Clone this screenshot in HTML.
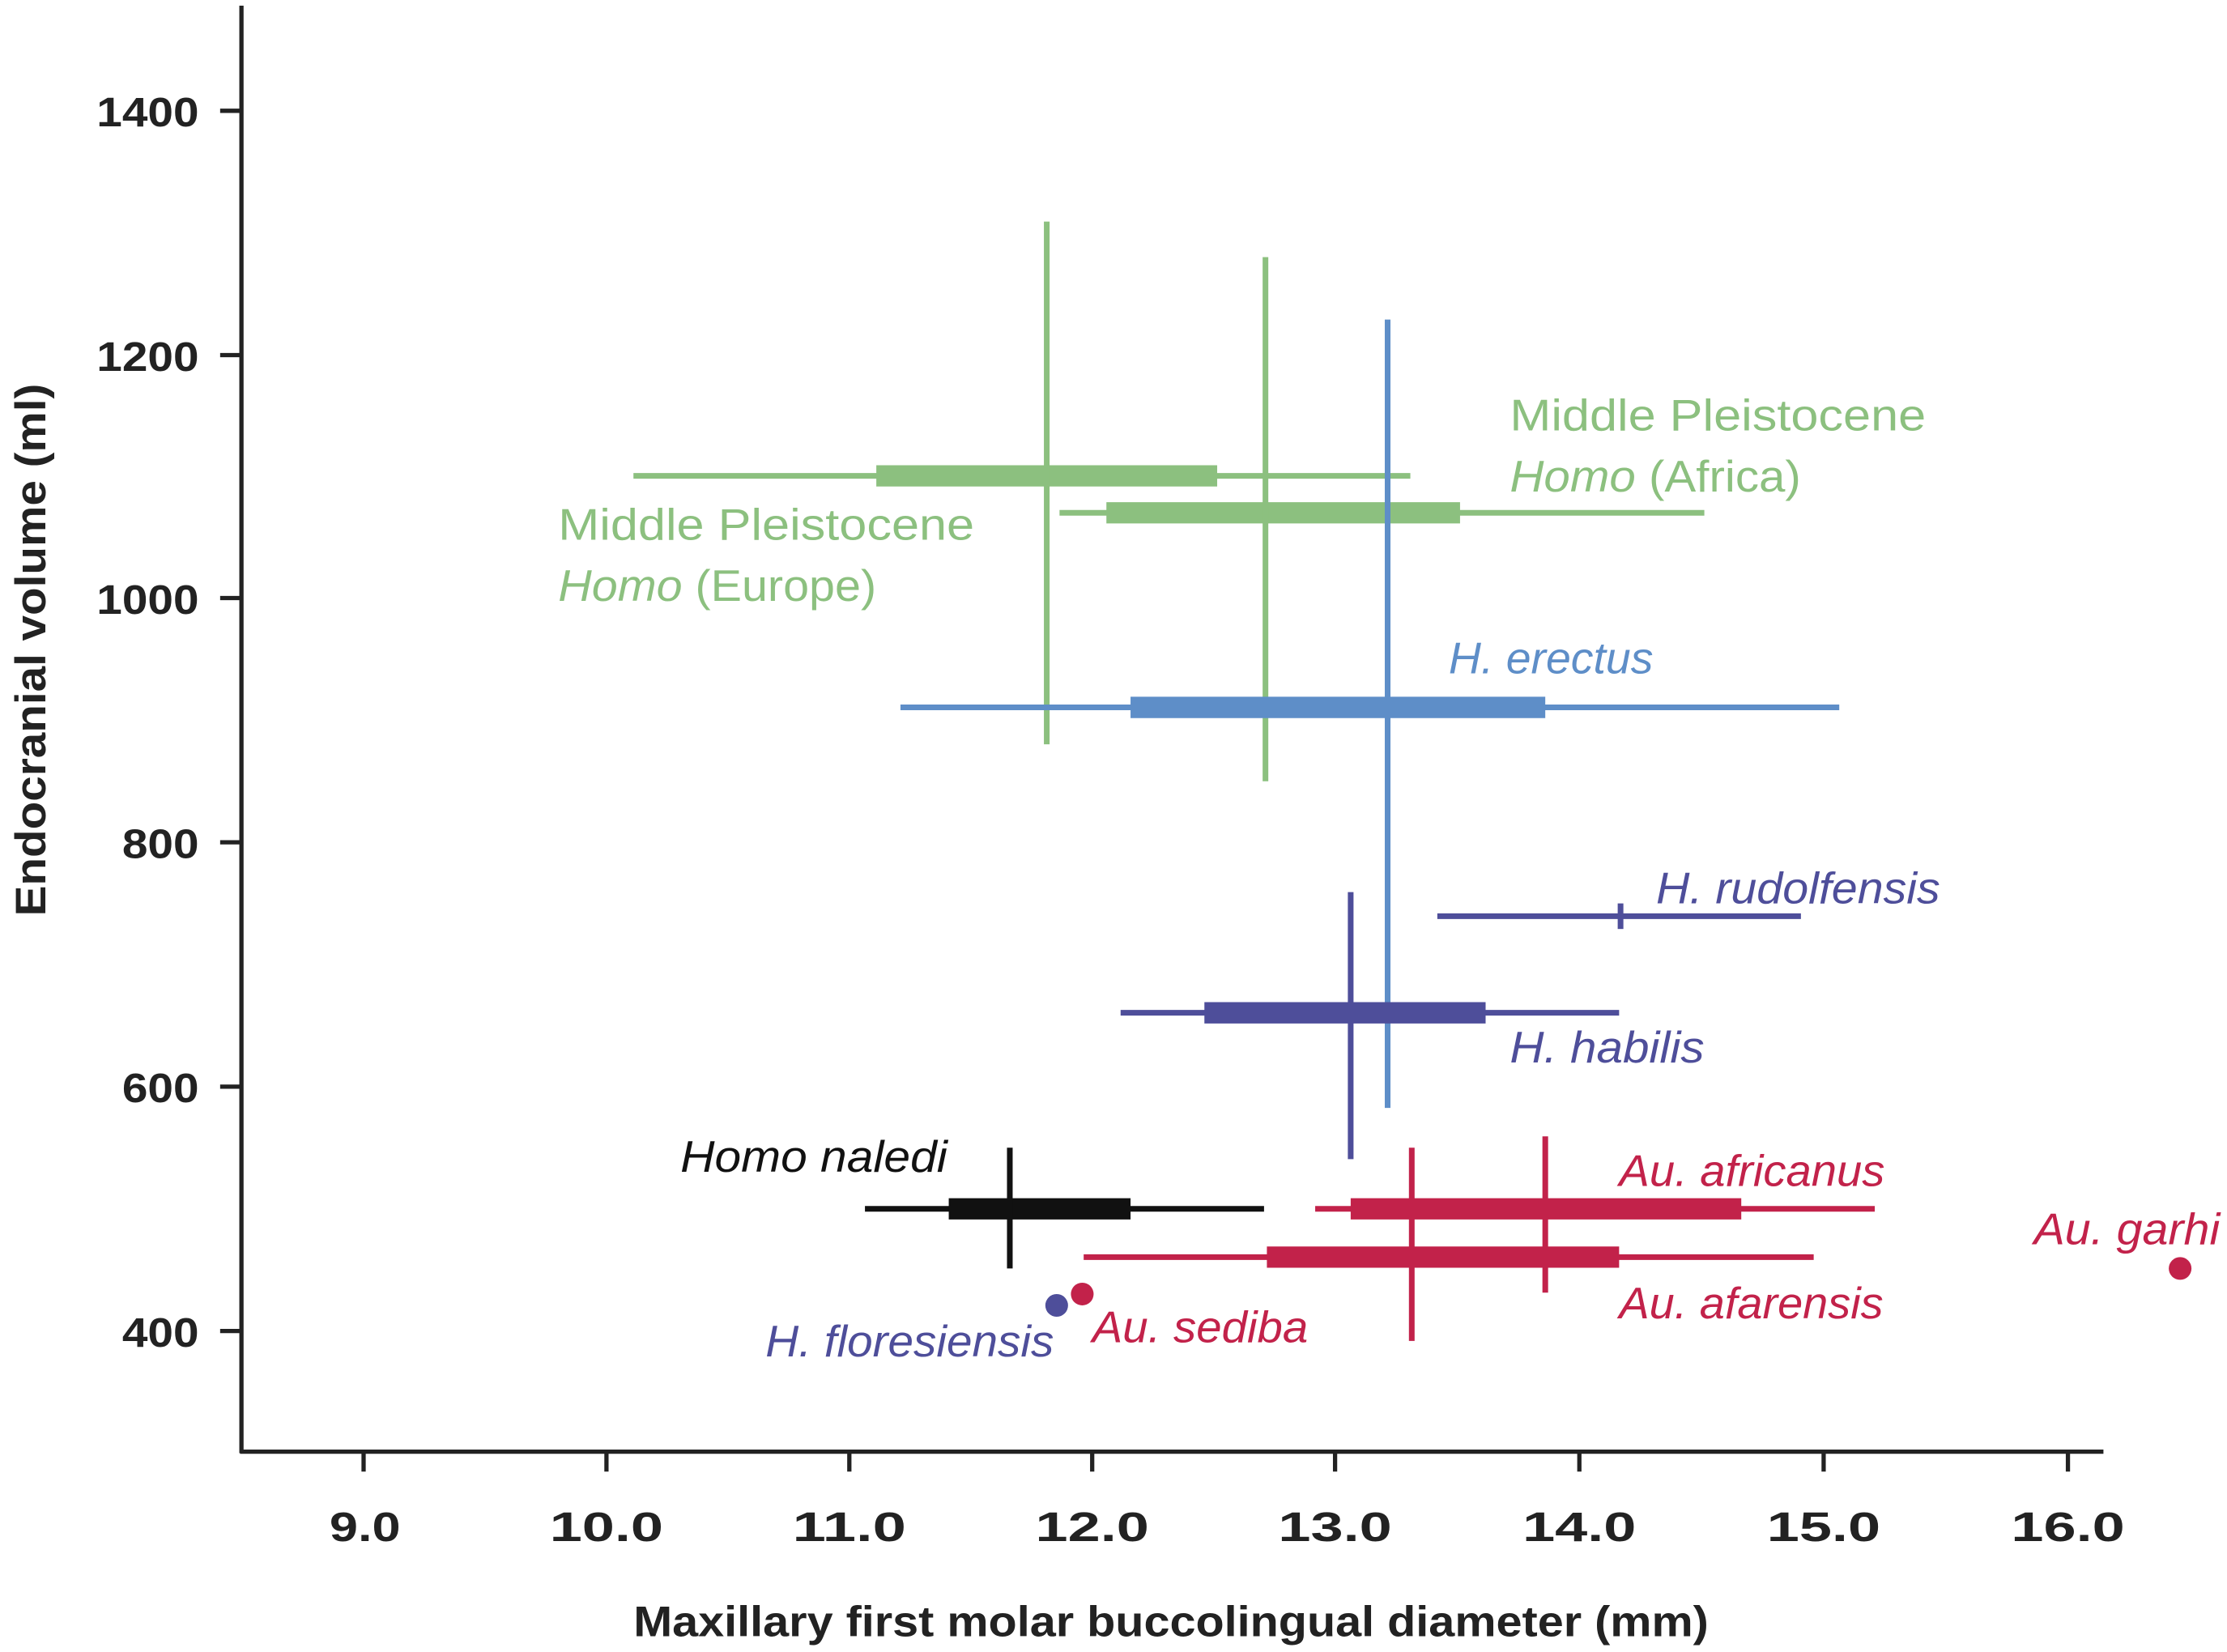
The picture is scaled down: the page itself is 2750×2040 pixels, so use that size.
<!DOCTYPE html>
<html><head><meta charset="utf-8"><style>html,body{margin:0;padding:0;background:#fff}svg{display:block}</style></head>
<body>
<svg width="2750" height="2040" viewBox="0 0 1568 1163" preserveAspectRatio="none" xmlns="http://www.w3.org/2000/svg" font-family="Liberation Sans, sans-serif">
<rect width="1568" height="1163" fill="#fff"/>
<g stroke="#222" stroke-width="3" fill="none">
<line x1="170" y1="4" x2="170" y2="1023"/>
<line x1="169" y1="1022" x2="1481" y2="1022"/>
<line x1="155" y1="78" x2="170" y2="78"/><line x1="155" y1="250" x2="170" y2="250"/><line x1="155" y1="421" x2="170" y2="421"/><line x1="155" y1="593" x2="170" y2="593"/><line x1="155" y1="765" x2="170" y2="765"/><line x1="155" y1="937" x2="170" y2="937"/>
<line x1="256" y1="1022" x2="256" y2="1036"/><line x1="427" y1="1022" x2="427" y2="1036"/><line x1="598" y1="1022" x2="598" y2="1036"/><line x1="769" y1="1022" x2="769" y2="1036"/><line x1="940" y1="1022" x2="940" y2="1036"/><line x1="1112" y1="1022" x2="1112" y2="1036"/><line x1="1284" y1="1022" x2="1284" y2="1036"/><line x1="1456" y1="1022" x2="1456" y2="1036"/>
</g>
<g font-size="29" font-weight="bold" fill="#222">
<text lengthAdjust="spacingAndGlyphs" x="68" y="89" textLength="72">1400</text><text lengthAdjust="spacingAndGlyphs" x="68" y="261" textLength="72">1200</text><text lengthAdjust="spacingAndGlyphs" x="68" y="432" textLength="72">1000</text><text lengthAdjust="spacingAndGlyphs" x="86" y="604" textLength="54">800</text><text lengthAdjust="spacingAndGlyphs" x="86" y="776" textLength="54">600</text><text lengthAdjust="spacingAndGlyphs" x="86" y="948" textLength="54">400</text>
<text lengthAdjust="spacingAndGlyphs" x="232" y="1085" textLength="50">9.0</text><text lengthAdjust="spacingAndGlyphs" x="387" y="1085" textLength="80">10.0</text><text lengthAdjust="spacingAndGlyphs" x="558" y="1085" textLength="80">11.0</text><text lengthAdjust="spacingAndGlyphs" x="729" y="1085" textLength="80">12.0</text><text lengthAdjust="spacingAndGlyphs" x="900" y="1085" textLength="80">13.0</text><text lengthAdjust="spacingAndGlyphs" x="1072" y="1085" textLength="80">14.0</text><text lengthAdjust="spacingAndGlyphs" x="1244" y="1085" textLength="80">15.0</text><text lengthAdjust="spacingAndGlyphs" x="1416" y="1085" textLength="80">16.0</text>
<text lengthAdjust="spacingAndGlyphs" x="446" y="1152" textLength="757" font-size="30">Maxillary first molar buccolingual diameter (mm)</text>
<text lengthAdjust="spacingAndGlyphs" transform="translate(32,645) rotate(-90)" textLength="375" font-size="30">Endocranial volume (ml)</text>
</g>
<g stroke="#8cc07f" fill="none">
<line x1="446" y1="335" x2="993" y2="335" stroke-width="4"/><line x1="617" y1="335" x2="857" y2="335" stroke-width="15"/><line x1="737" y1="156" x2="737" y2="524" stroke-width="4"/>
<line x1="746" y1="361" x2="1200" y2="361" stroke-width="4"/><line x1="779" y1="361" x2="1028" y2="361" stroke-width="15"/><line x1="891" y1="181" x2="891" y2="550" stroke-width="4"/>
</g>
<g stroke="#5e8ec8" fill="none">
<line x1="634" y1="498" x2="1295" y2="498" stroke-width="4"/><line x1="796" y1="498" x2="1088" y2="498" stroke-width="15"/><line x1="977" y1="225" x2="977" y2="780" stroke-width="4"/>
</g>
<g stroke="#4e4e9a" fill="none">
<line x1="1012" y1="645" x2="1268" y2="645" stroke-width="4"/><line x1="1141" y1="636" x2="1141" y2="654" stroke-width="4"/>
<line x1="789" y1="713" x2="1140" y2="713" stroke-width="4"/><line x1="848" y1="713" x2="1046" y2="713" stroke-width="15"/><line x1="951" y1="628" x2="951" y2="816" stroke-width="4"/>
</g>
<g stroke="#111" fill="none">
<line x1="609" y1="851" x2="890" y2="851" stroke-width="4"/><line x1="668" y1="851" x2="796" y2="851" stroke-width="15"/><line x1="711" y1="808" x2="711" y2="893" stroke-width="4"/>
</g>
<g stroke="#c2224a" fill="none">
<line x1="926" y1="851" x2="1320" y2="851" stroke-width="4"/><line x1="951" y1="851" x2="1226" y2="851" stroke-width="15"/><line x1="1088" y1="800" x2="1088" y2="910" stroke-width="4"/>
<line x1="763" y1="885" x2="1277" y2="885" stroke-width="4"/><line x1="892" y1="885" x2="1140" y2="885" stroke-width="15"/><line x1="994" y1="808" x2="994" y2="944" stroke-width="4"/>
</g>
<circle cx="744" cy="919" r="8" fill="#4e4e9a"/>
<circle cx="762" cy="911" r="8" fill="#c2224a"/>
<circle cx="1535" cy="893" r="8" fill="#c2224a"/>
<g font-size="31">
<text lengthAdjust="spacingAndGlyphs" x="1063" y="303" fill="#8cc07f" textLength="293">Middle Pleistocene</text>
<text lengthAdjust="spacingAndGlyphs" x="1063" y="346" fill="#8cc07f" textLength="205"><tspan font-style="italic">Homo</tspan> (Africa)</text>
<text lengthAdjust="spacingAndGlyphs" x="393" y="380" fill="#8cc07f" textLength="293">Middle Pleistocene</text>
<text lengthAdjust="spacingAndGlyphs" x="393" y="423" fill="#8cc07f" textLength="224"><tspan font-style="italic">Homo</tspan> (Europe)</text>
<g font-style="italic">
<text lengthAdjust="spacingAndGlyphs" x="1020" y="474" fill="#5e8ec8" textLength="144">H. erectus</text>
<text lengthAdjust="spacingAndGlyphs" x="1166" y="636" fill="#4e4e9a" textLength="200">H. rudolfensis</text>
<text lengthAdjust="spacingAndGlyphs" x="1063" y="748" fill="#4e4e9a" textLength="137">H. habilis</text>
<text lengthAdjust="spacingAndGlyphs" x="479" y="825" fill="#111" textLength="188">Homo naledi</text>
<text lengthAdjust="spacingAndGlyphs" x="1140" y="835" fill="#c2224a" textLength="187">Au. africanus</text>
<text lengthAdjust="spacingAndGlyphs" x="1140" y="928" fill="#c2224a" textLength="186">Au. afarensis</text>
<text lengthAdjust="spacingAndGlyphs" x="1432" y="876" fill="#c2224a" textLength="131">Au. garhi</text>
<text lengthAdjust="spacingAndGlyphs" x="539" y="955" fill="#4e4e9a" textLength="203">H. floresiensis</text>
<text lengthAdjust="spacingAndGlyphs" x="769" y="945" fill="#c2224a" textLength="152">Au. sediba</text>
</g>
</g>
</svg>
</body></html>
